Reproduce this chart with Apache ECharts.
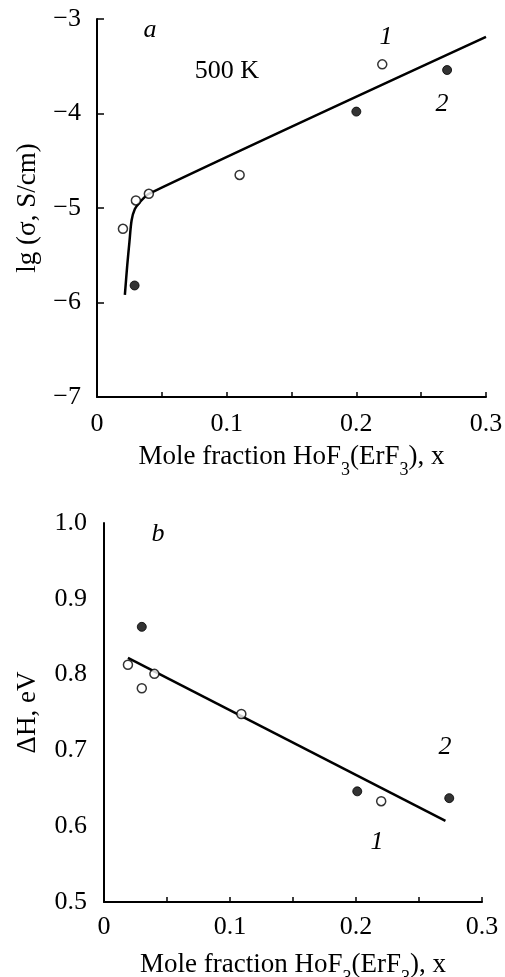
<!DOCTYPE html>
<html>
<head>
<meta charset="utf-8">
<script src="https://cdn.jsdelivr.net/npm/echarts@6/dist/echarts.min.js"></script>
<style>
  html, body { margin: 0; padding: 0; background: #fff; }
  #content { width: 505px; height: 977px; }
</style>
</head>
<body>
<div id="content"></div>
<script>
// panel a: lg(sigma) at 500 K
const xOpenA = [0.02, 0.03, 0.04, 0.11, 0.22]
const yOpenA = [-5.22, -4.92, -4.85, -4.65, -3.48]
const xFillA = [0.029, 0.2, 0.27]
const yFillA = [-5.82, -3.98, -3.54]
const xFitA = [0.0215, 0.0233, 0.025, 0.0267, 0.0292, 0.033, 0.04, 0.3]
const yFitA = [-5.92, -5.61, -5.36, -5.13, -5.01, -4.94, -4.85, -3.19]

// panel b: activation enthalpy
const xOpenB = [0.019, 0.03, 0.04, 0.109, 0.22]
const yOpenB = [0.813, 0.782, 0.801, 0.748, 0.633]
const xFillB = [0.03, 0.201, 0.274]
const yFillB = [0.863, 0.646, 0.637]
const xFitB = [0.019, 0.271]
const yFitB = [0.822, 0.607]

const xTicks = [0, 0.1, 0.2, 0.3]

const FONT = '"Liberation Serif", "DejaVu Serif", serif'

const zip = (xs, ys) => xs.map((x, i) => [x, ys[i]])

const xName = 'Mole fraction HoF{sub|3}(ErF{sub|3}), x'
const nameStyle = {
  fontFamily: FONT, fontSize: 27, color: '#000',
  rich: {
    sub: {fontFamily: FONT, fontSize: 18, color: '#000', verticalAlign: 'bottom', padding: [0, 0, -9, 0]}
  }
}

function xAxisOf(gridIndex, gap, margin) {
  return {
    type: 'value', gridIndex: gridIndex,
    min: 0, max: 0.3, interval: 0.1,
    name: xName, nameLocation: 'middle', nameGap: gap,
    nameTextStyle: nameStyle,
    axisLine: {show: true, lineStyle: {color: '#000', width: 2}},
    axisTick: {show: true, inside: true, length: 5, lineStyle: {color: '#000', width: 1.5}},
    minorTick: {show: true, splitNumber: 2, length: 5, lineStyle: {color: '#000', width: 1.5}},
    splitLine: {show: false},
    axisLabel: {
      fontFamily: FONT, fontSize: 26, color: '#000', margin: margin,
      formatter: v => xTicks.indexOf(+v.toFixed(2)) >= 0 ? String(+v.toFixed(2)) : ''
    }
  }
}

const openSym = {color: '#fff', borderColor: '#000', borderWidth: 1.5}
const fillSym = {color: '#000', borderColor: '#000', borderWidth: 1}

function note(x, y, text, italic) {
  return {
    type: 'text', x: x, y: y,
    style: {
      text: text, font: (italic ? 'italic ' : '') + '26px ' + FONT,
      fill: '#000', textAlign: 'center', textVerticalAlign: 'middle'
    }
  }
}

const content = document.querySelector('#content')
const myChart = echarts.init(content)
myChart.setOption({
  animation: false,
  backgroundColor: '#fff',
  grid: [
    {left: 97, top: 19, width: 389, height: 378, outerBoundsMode: 'none'},
    {left: 104, top: 523, width: 378, height: 379, outerBoundsMode: 'none'}
  ],
  xAxis: [xAxisOf(0, 46, 14), xAxisOf(1, 49, 12)],
  yAxis: [
    {
      type: 'value', gridIndex: 0,
      min: -7, max: -3, interval: 1,
      name: 'lg (σ, S/cm)', nameLocation: 'middle', nameRotate: 90, nameGap: 56,
      nameTextStyle: {fontFamily: FONT, fontSize: 27, color: '#000'},
      axisLine: {show: true, lineStyle: {color: '#000', width: 2}},
      axisTick: {show: true, inside: true, length: 7, lineStyle: {color: '#000', width: 1.5}},
      splitLine: {show: false},
      axisLabel: {
        fontFamily: FONT, fontSize: 26, color: '#000', margin: 16,
        padding: [8, 0, 0, 0],
        formatter: v => '\u2212' + Math.abs(v)
      }
    },
    {
      type: 'value', gridIndex: 1,
      min: 0.5, max: 1.0, interval: 0.1,
      name: 'ΔH, eV', nameLocation: 'middle', nameRotate: 90, nameGap: 63,
      nameTextStyle: {fontFamily: FONT, fontSize: 27, color: '#000'},
      axisLine: {show: true, lineStyle: {color: '#000', width: 2}},
      axisTick: {show: false},
      splitLine: {show: false},
      axisLabel: {
        fontFamily: FONT, fontSize: 26, color: '#000', margin: 17,
        padding: [5, 0, 0, 0],
        formatter: v => v.toFixed(1)
      }
    }
  ],
  graphic: [
    note(150, 30, 'a', true),
    note(227, 71, '500 K', false),
    note(386, 37, '1', true),
    note(442, 104, '2', true),
    note(158, 534, 'b', true),
    note(445, 747, '2', true),
    note(377, 842, '1', true)
  ],
  series: [
    {
      name: 'fit a', type: 'line', xAxisIndex: 0, yAxisIndex: 0,
      data: zip(xFitA, yFitA), smooth: 0.3, showSymbol: false,
      lineStyle: {color: '#000', width: 2.5}, z: 2
    },
    {
      name: '1', type: 'scatter', xAxisIndex: 0, yAxisIndex: 0,
      data: zip(xOpenA, yOpenA), symbol: 'circle', symbolSize: 9,
      itemStyle: openSym, z: 3
    },
    {
      name: '2', type: 'scatter', xAxisIndex: 0, yAxisIndex: 0,
      data: zip(xFillA, yFillA), symbol: 'circle', symbolSize: 9,
      itemStyle: fillSym, z: 3
    },
    {
      name: 'fit b', type: 'line', xAxisIndex: 1, yAxisIndex: 1,
      data: zip(xFitB, yFitB), showSymbol: false,
      lineStyle: {color: '#000', width: 2.5}, z: 2
    },
    {
      name: '1', type: 'scatter', xAxisIndex: 1, yAxisIndex: 1,
      data: zip(xOpenB, yOpenB), symbol: 'circle', symbolSize: 9,
      itemStyle: openSym, z: 3
    },
    {
      name: '2', type: 'scatter', xAxisIndex: 1, yAxisIndex: 1,
      data: zip(xFillB, yFillB), symbol: 'circle', symbolSize: 9,
      itemStyle: fillSym, z: 3
    }
  ]
})
</script>
</body>
</html>
